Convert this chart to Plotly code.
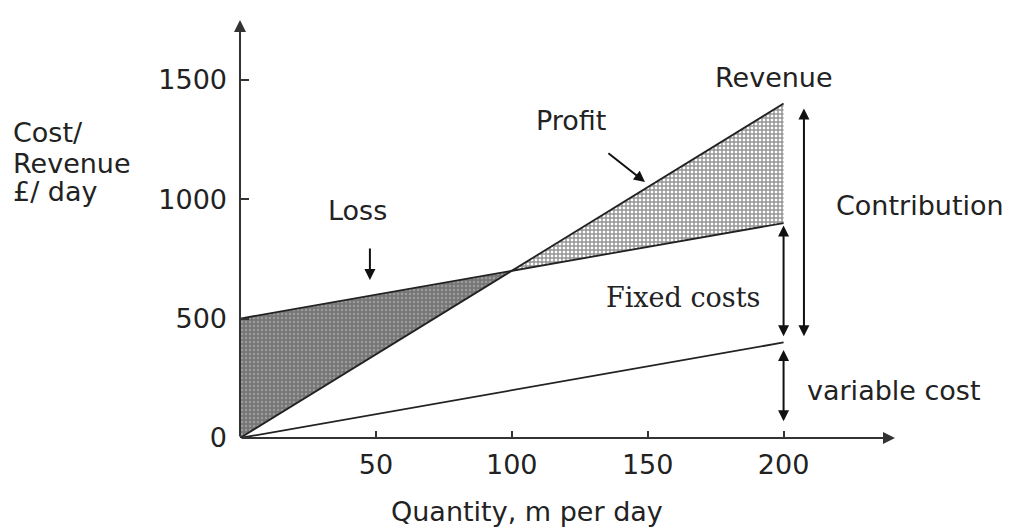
import plotly.graph_objects as go

# Break-even data (£ per day against quantity, m per day)
quantity = [0, 100, 200]
revenue = [0, 700, 1400]
total_cost = [500, 700, 900]
variable_cost = [0, 200, 400]

x_ticks = [50, 100, 150, 200]
y_ticks = [0, 500, 1000, 1500]

FONT = "DejaVu Sans"
INK = "#222222"

fig = go.Figure()

# Loss wedge: total cost above revenue, up to break-even
loss_x = quantity[:2] + quantity[:2][::-1]
loss_y = total_cost[:2] + revenue[:2][::-1]
fig.add_trace(go.Scatter(
    x=loss_x, y=loss_y, mode="lines", fill="toself",
    line=dict(width=0),
    fillcolor="#7a7a7a",
    fillpattern=dict(shape=".", bgcolor="#767676", fgcolor="#c0c0c0",
                     size=4, solidity=0.3),
    hoverinfo="skip", showlegend=False))

# Profit wedge: revenue above total cost, after break-even
profit_x = quantity[1:] + quantity[1:][::-1]
profit_y = revenue[1:] + total_cost[1:][::-1]
fig.add_trace(go.Scatter(
    x=profit_x, y=profit_y, mode="lines", fill="toself",
    line=dict(width=0),
    fillcolor="#ffffff",
    fillpattern=dict(shape="+", bgcolor="#ffffff", fgcolor="#2a2a2a",
                     size=4, solidity=0.6),
    hoverinfo="skip", showlegend=False))

for series in (revenue, total_cost, variable_cost):
    fig.add_trace(go.Scatter(
        x=quantity, y=series, mode="lines",
        line=dict(color=INK, width=1.8),
        hoverinfo="skip", showlegend=False))

ann = []

# Axis arrows
ann.append(dict(x=241, y=0, ax=0, ay=0, xref="x", yref="y", axref="x", ayref="y",
                showarrow=True, arrowhead=2, arrowsize=1.2, arrowwidth=2,
                arrowcolor="#333333", text=""))
ann.append(dict(x=0, y=1750, ax=0, ay=0, xref="x", yref="y", axref="x", ayref="y",
                showarrow=True, arrowhead=2, arrowsize=1.2, arrowwidth=2,
                arrowcolor="#333333", text=""))


def text(t, x, y, xanchor="center", size=27, family=FONT, xref="x", yref="y"):
    ann.append(dict(text=t, x=x, y=y, xref=xref, yref=yref, xanchor=xanchor,
                    yanchor="middle", showarrow=False,
                    font=dict(family=family, size=size, color=INK)))


def arrow(x0, y0, x1, y1, both=False):
    ann.append(dict(x=x1, y=y1, ax=x0, ay=y0, xref="x", yref="y",
                    axref="x", ayref="y", text="", showarrow=True,
                    arrowhead=2, arrowsize=1.1, arrowwidth=2,
                    arrowside="end+start" if both else "end",
                    startarrowhead=2, startarrowsize=1.1,
                    arrowcolor="#111111"))


text("Revenue", 196.5, 1511)
text("Profit", 121.8, 1331)
text("Loss", 43.4, 954)
text("Contribution", 218.5, 973, xanchor="left")
text("Fixed costs", 163, 590, family="DejaVu Serif", size=27)
text("variable cost", 208, 197, xanchor="left")

# Pointers onto the regions
arrow(135, 1197, 149, 1072)
arrow(47.8, 800, 47.8, 661)

# Cost and revenue breakdown at 200 m per day
arrow(207.5, 420, 207.5, 1380, both=True)
arrow(200, 420, 200, 890, both=True)
arrow(200, 375, 200, 70, both=True)

# Axis titles
text("Cost/", -0.35, 1277, xanchor="left", xref="paper")
text("Revenue", -0.35, 1151, xanchor="left", xref="paper")
text("£/ day", -0.35, 1034, xanchor="left", xref="paper")
text("Quantity, m per day", (527 - 240) / 2.718, -0.177, yref="paper")

fig.update_layout(
    width=1010, height=530,
    margin=dict(l=240, r=115, t=20, b=92),
    paper_bgcolor="white", plot_bgcolor="white",
    annotations=ann,
    xaxis=dict(range=[0, 241], tickvals=x_ticks, ticks="inside", ticklen=7,
               tickwidth=2, tickcolor="#333333", showgrid=False, zeroline=False,
               showline=False, ticklabelstandoff=8,
               tickfont=dict(family=FONT, size=27, color=INK),
               fixedrange=True),
    yaxis=dict(range=[0, 1750], tickvals=y_ticks, ticks="inside", ticklen=9,
               tickwidth=2, tickcolor="#333333", showgrid=False, zeroline=False,
               showline=False, ticklabelstandoff=12,
               tickfont=dict(family=FONT, size=27, color=INK),
               fixedrange=True),
)

fig.write_html("out.html")
